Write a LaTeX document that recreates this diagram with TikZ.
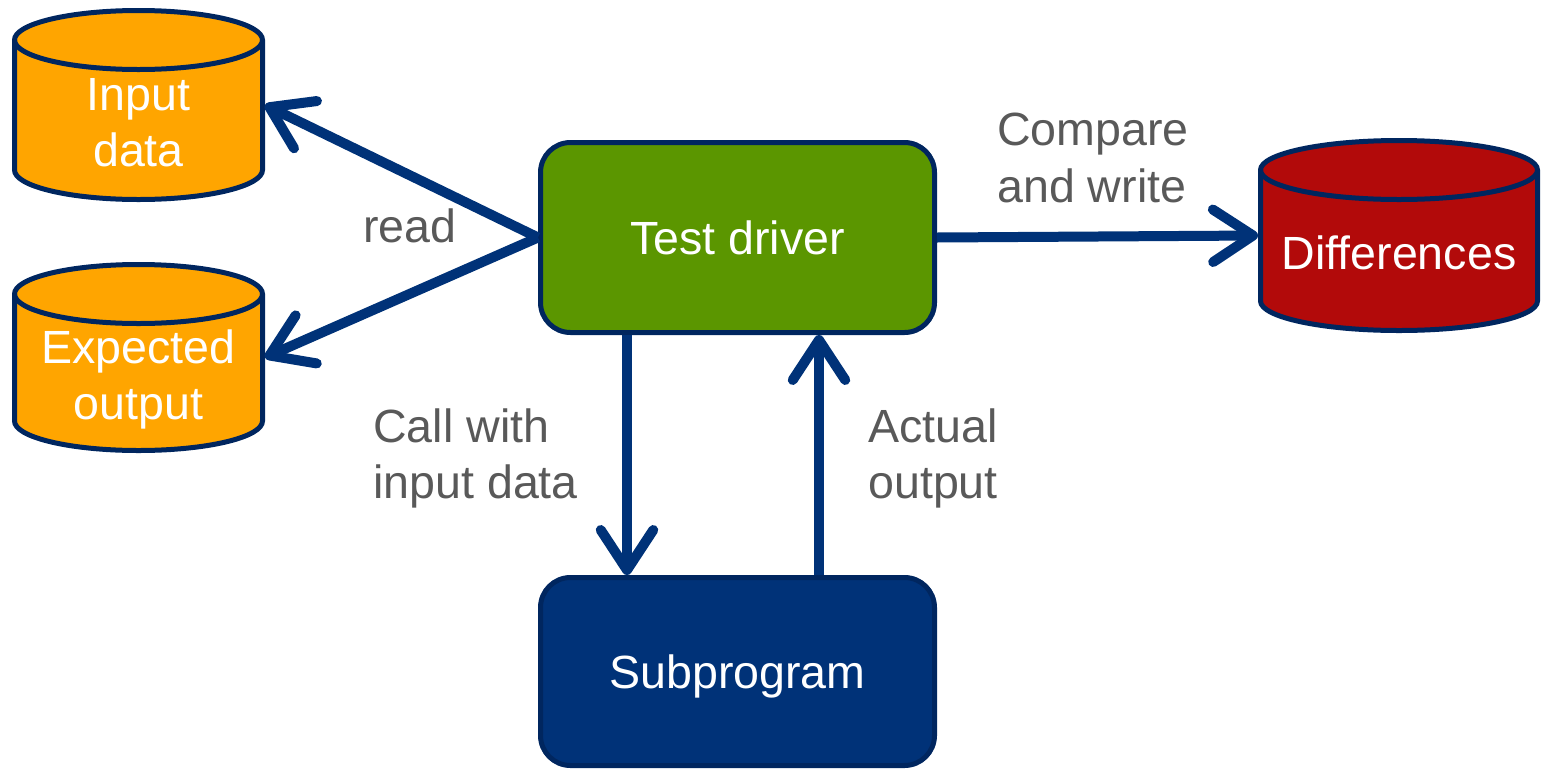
\documentclass[tikz,border=0pt]{standalone}
\usepackage{fontspec}
\setmainfont{Liberation Sans}
\usetikzlibrary{positioning,arrows.meta}

\definecolor{navy}{RGB}{0,50,120}
\definecolor{navyline}{RGB}{0,38,95}
\definecolor{dborange}{RGB}{255,165,0}
\definecolor{drivergreen}{RGB}{91,150,0}
\definecolor{diffred}{RGB}{178,10,10}
\definecolor{labelgray}{RGB}{89,89,89}

% data store: name, centre, width, height, fill, text
\newcommand\datastore[6]{%
  \filldraw[dbline,fill=#5] (#2) ++({-#3/2},{#4/2-0.59}) -- ++(0,{-#4+1.18})
    arc[start angle=180,end angle=360,x radius=#3/2,y radius=0.59] -- ++(0,{#4-1.18})
    arc[start angle=0,end angle=180,x radius=#3/2,y radius=0.59] -- cycle;
  \draw[dbline] (#2) ++({-#3/2},{#4/2-0.59})
    arc[start angle=180,end angle=360,x radius=#3/2,y radius=0.59];
  \node[dbnode,minimum width=#3cm,minimum height=#4cm,
    label={[dbtext]center:#6}] (#1) at (#2) {};
}

\begin{document}
\begin{tikzpicture}[
  every node/.style={font=\fontsize{26.5}{32}\selectfont},
  box/.style={rectangle,rounded corners=0.6cm,draw=navyline,line width=0.1cm,
    minimum width=7.88cm,minimum height=3.8cm,text=white,text depth=0pt},
  dbline/.style={draw=navyline,line width=0.1cm},
  dbnode/.style={rectangle,inner sep=0pt,outer sep=0.05cm},
  dbtext/.style={text=white,align=center,text depth=0pt,yshift=-0.35cm},
  lbl/.style={text=labelgray,align=left,inner sep=0pt},
  arr/.style={-{Straight Barb[round,length=0.8cm,width=1.05cm]},draw=navy,line width=0.2cm}]

\useasboundingbox (0,0) rectangle (30.82,-15.38);

% boxes
\node[box,fill=drivergreen] (td) at (14.75,-4.75) {Test driver};
\node[box,fill=navy,minimum height=3.76cm] (sub) [below=4.8cm of td] {Subprogram};

% data stores
\datastore{ind}{2.77,-2.10}{4.96}{3.78}{dborange}{Input\\data}
\datastore{exp}{2.77,-7.15}{4.96}{3.72}{dborange}{Expected\\output}
\datastore{diff}{27.98,-4.71}{5.54}{3.80}{diffred}{Differences}

% connectors
\draw[arr] (td.west) -- (ind.east);
\draw[arr] (td.west) -- (exp.east);
\draw[arr] (td.east) -- (diff.west);
\draw[arr] ([xshift=-2.21cm]td.south) -- ([xshift=-2.21cm]sub.north);
\draw[arr] ([xshift=1.63cm]sub.north) -- ([xshift=1.63cm]td.south);

% labels
\node[lbl,anchor=north west] (rd) at (7.26,-4.16) {read};
\node[lbl,anchor=north west] (cmp) at (19.94,-2.26) {Compare\\and write};
\node[lbl,anchor=north west] (call) at (7.46,-8.16) {Call with\\input data};
\node[lbl,anchor=north west] (act) at (17.36,-8.16) {Actual\\output};
\end{tikzpicture}
\end{document}
